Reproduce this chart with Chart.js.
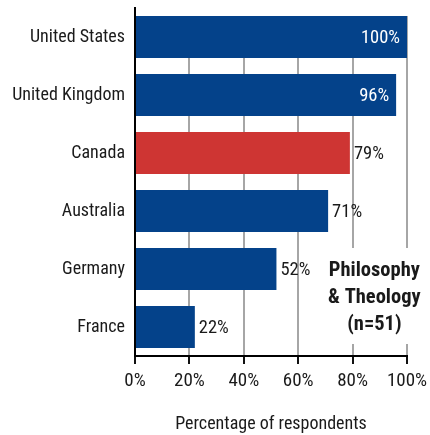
<!DOCTYPE html>
<html>
<head>
<meta charset="utf-8">
<script src="https://cdn.jsdelivr.net/npm/chart.js@4.4.1/dist/chart.umd.min.js"></script>
<style>
  html, body { margin: 0; padding: 0; background: #fff; }
  #wrap { width: 430px; height: 435px; position: relative; }
</style>
</head>
<body>
<div id="wrap"><canvas id="chart"></canvas></div>
<script>
// --------------------
// Data
// --------------------
const countries = ['United States', 'United Kingdom', 'Canada', 'Australia', 'Germany', 'France'];
const percents = [100, 96, 79, 71, 52, 22];
const highlightCountry = 'Canada';
const noteLines = ['Philosophy', '& Theology', '(n=51)'];
const axisTitle = 'Percentage of respondents';

// --------------------
// Styles
// --------------------
const FONT = '"Roboto Condensed", "DejaVu Sans Condensed", sans-serif';
const BLUE = '#04428A';
const RED = '#CE3533';
const TEXT = '#1a1a1a';
const GRID = '#a6a6a6';

Chart.defaults.font.family = FONT;
Chart.defaults.font.size = 18;
Chart.defaults.color = TEXT;

// value labels at the end of each bar
const barLabels = {
  id: 'barLabels',
  afterDatasetsDraw(chart) {
    const ctx = chart.ctx;
    const meta = chart.getDatasetMeta(0);
    ctx.save();
    ctx.font = '18.5px ' + FONT;
    ctx.textBaseline = 'middle';
    meta.data.forEach((bar, i) => {
      const v = percents[i];
      const txt = v + '%';
      if (v >= 90) {
        ctx.fillStyle = '#fff';
        ctx.textAlign = 'right';
        ctx.fillText(txt, bar.x - 7, bar.y + 1);
      } else {
        ctx.fillStyle = TEXT;
        ctx.textAlign = 'left';
        ctx.fillText(txt, bar.x + 4, bar.y + 1);
      }
    });
    ctx.restore();
  }
};

// gridlines start at the top of the first bar; the note sits on a white patch
const subjectNote = {
  id: 'subjectNote',
  beforeDatasetsDraw(chart) {
    const ctx = chart.ctx;
    const area = chart.chartArea;
    const xs = chart.scales.x;
    const ys = chart.scales.y;
    const first = chart.getDatasetMeta(0).data[0];
    ctx.save();
    ctx.fillStyle = '#fff';
    ctx.fillRect(area.left + 1, area.top - 1, area.right - area.left + 2, first.y - first.height / 2 - area.top + 1);

    const cx = xs.getPixelForValue(88);
    const cy = (ys.getPixelForValue(4) + ys.getPixelForValue(5)) / 2;
    const lh = 27;
    ctx.fillRect(cx - 54, cy - 50, 110, 96);
    ctx.font = 'bold 20.5px ' + FONT;
    ctx.fillStyle = TEXT;
    ctx.textAlign = 'center';
    ctx.textBaseline = 'middle';
    noteLines.forEach((line, i) => {
      ctx.fillText(line, cx, cy + (i - 1) * lh);
    });
    ctx.restore();
  }
};

// --------------------
// Chart
// --------------------
const ctx = document.getElementById('chart').getContext('2d');
new Chart(ctx, {
  type: 'bar',
  data: {
    labels: countries,
    datasets: [{
      data: percents,
      backgroundColor: countries.map(c => c === highlightCountry ? RED : BLUE),
      borderWidth: 0,
      categoryPercentage: 1,
      barPercentage: 0.724
    }]
  },
  options: {
    indexAxis: 'y',
    responsive: true,
    maintainAspectRatio: false,
    animation: false,
    layout: { padding: { top: 8, right: 23, left: 0, bottom: 0 } },
    plugins: {
      legend: { display: false },
      tooltip: { enabled: false }
    },
    scales: {
      x: {
        min: 0,
        max: 100,
        ticks: {
          stepSize: 20,
          padding: 6,
          color: TEXT,
          font: { size: 19 },
          maxRotation: 0,
          callback: v => v + '%'
        },
        grid: {
          color: GRID,
          lineWidth: 2,
          tickColor: '#111',
          tickLength: 8,
          tickWidth: 2
        },
        border: { display: true, color: '#000', width: 2 },
        title: {
          display: true,
          text: axisTitle,
          color: TEXT,
          font: { size: 18 },
          padding: { top: 0, bottom: 0 }
        },
        afterFit(scale) {
          scale.height = 79;
          scale.paddingLeft = 0;
          scale.paddingRight = 0;
        }
      },
      y: {
        ticks: { padding: 10, color: TEXT },
        grid: { display: true, drawOnChartArea: false, drawTicks: false },
        border: { display: true, color: '#000', width: 2 },
        afterFit(scale) {
          scale.width = 135;
          scale.paddingTop = 0;
          scale.paddingBottom = 0;
        }
      }
    }
  },
  plugins: [barLabels, subjectNote]
});
</script>
</body>
</html>
